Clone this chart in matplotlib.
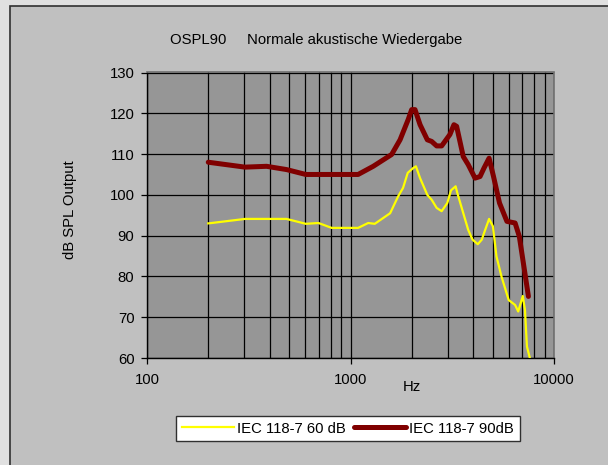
import matplotlib
matplotlib.use("Agg")
import matplotlib.pyplot as plt
from matplotlib.patches import Rectangle
from matplotlib.ticker import FixedLocator, NullFormatter

plt.rcParams['font.family'] = ['Liberation Sans', 'DejaVu Sans']

# ---- data ----
title = "OSPL90     Normale akustische Wiedergabe"
y_label = "dB SPL Output"
x_label = "Hz"
series60_name = "IEC 118-7 60 dB"
series90_name = "IEC 118-7 90dB"

freq60 = [200, 303, 485, 603, 696, 808, 1090, 1222, 1316, 1566, 1713, 1812, 1911,
          2036, 2097, 2197, 2385, 2505, 2651, 2805, 2990, 3118, 3285, 3347, 3789,
          3981, 4222, 4414, 4559, 4798, 5010, 5216, 5518, 5990, 6440, 6670, 7025,
          7199, 7363, 7608]
db60 = [93.0, 94.1, 94.1, 92.9, 93.1, 91.9, 91.9, 93.1, 92.9, 95.5, 99.6, 101.7, 105.4,
        106.6, 107.0, 104.1, 100.0, 98.8, 96.8, 96.0, 98.0, 101.1, 102.1, 100.5, 91.4,
        89.0, 87.9, 89.0, 91.0, 94.1, 92.3, 84.9, 80.0, 74.2, 73.0, 71.4, 75.2,
        71.8, 62.8, 60.0]

freq90 = [200, 303, 387, 485, 603, 886, 1090, 1293, 1593, 1752, 1922, 1998, 2075,
          2197, 2385, 2505, 2651, 2805, 3080, 3223, 3323, 3581, 3789, 4092, 4331,
          4532, 4798, 5044, 5398, 5870, 6440, 6755, 7487]
db90 = [108.0, 106.8, 107.0, 106.2, 105.0, 105.0, 105.0, 107.0, 109.9, 113.5, 118.5, 120.9, 120.9,
        117.2, 113.5, 113.1, 112.0, 112.0, 114.8, 117.2, 116.8, 109.4, 107.4, 104.1, 104.5,
        106.6, 109.0, 104.5, 98.0, 93.5, 93.1, 89.8, 75.1]

x_ticks = [100, 1000, 10000]
x_ticklabels = ["100", "1000", "10000"]
x_minor = [200, 300, 400, 500, 600, 700, 800, 900,
           2000, 3000, 4000, 5000, 6000, 7000, 8000, 9000]
y_ticks = [60, 70, 80, 90, 100, 110, 120, 130]

FS = 10.7
W, H = 608, 465
fig = plt.figure(figsize=(W / 100, H / 100), dpi=100)
fig.patch.set_facecolor('#e0e0e0')
bg = Rectangle((9.5 / W, -0.05), 1.1, 1 - 5.5 / H + 0.05,
               transform=fig.transFigure, facecolor='#c0c0c0',
               edgecolor='#303030', linewidth=1.2, zorder=-10)
fig.patches.append(bg)

ax = fig.add_axes([147 / W, 1 - 358 / H, (554 - 147) / W, (358 - 72.5) / H])
ax.set_zorder(1)
ax.set_facecolor('#969696')
ax.set_xscale('log')
ax.set_xlim(100, 10000)
ax.set_ylim(60, 130)

ax.plot(freq60, db60, color='#ffff00', linewidth=1.6, solid_joinstyle='round', zorder=3)
ax.plot(freq90, db90, color='#800000', linewidth=3.6, solid_joinstyle='round',
        solid_capstyle='round', zorder=4)

ax.xaxis.set_major_locator(FixedLocator(x_ticks))
ax.set_xticklabels(x_ticklabels)
ax.xaxis.set_minor_locator(FixedLocator(x_minor))
ax.xaxis.set_minor_formatter(NullFormatter())
ax.set_yticks(y_ticks)

ax.grid(True, which='major', axis='both', color='black', linewidth=0.9)
ax.grid(True, which='minor', axis='x', color='black', linewidth=0.9)
ax.set_axisbelow(True)

ax.tick_params(axis='both', which='major', length=4, width=0.9, color='black',
               labelsize=FS, labelcolor='black', direction='out')
ax.tick_params(axis='x', which='major', pad=7)
ax.tick_params(axis='y', which='major', pad=5)
ax.tick_params(axis='x', which='minor', length=0)

for s in ['left', 'bottom']:
    ax.spines[s].set_color('black')
    ax.spines[s].set_linewidth(1.0)
for s in ['top', 'right']:
    ax.spines[s].set_color('#707070')
    ax.spines[s].set_linewidth(1.2)

ax.set_ylabel(y_label, fontsize=FS)
ax.yaxis.set_label_coords((77 - 147) / 407, (358 - 210) / 285.5)
ax.text((411.7 - 147) / 407, (358 - 387) / 285.5, x_label, transform=ax.transAxes,
        ha='center', va='center', fontsize=FS)

fig.text(316 / W, 1 - 40 / H, title, ha='center', va='center', fontsize=FS)

h60, = ax.plot([], [], color='#ffff00', linewidth=1.6)
h90, = ax.plot([], [], color='#800000', linewidth=3.6, solid_capstyle='round')
leg = fig.legend([h60, h90], [series60_name, series90_name], loc='center',
                 bbox_to_anchor=(348 / W, 1 - 428.5 / H), ncol=2, frameon=True,
                 fancybox=False, shadow=False, fontsize=FS, handlelength=3.5,
                 handletextpad=0.2, columnspacing=0.6, borderpad=0.4,
                 borderaxespad=0, framealpha=1)
leg.get_frame().set_facecolor('white')
leg.get_frame().set_edgecolor('#303030')
leg.get_frame().set_linewidth(1.0)
leg.set_zorder(5)

fig.savefig('out.png', dpi=100, facecolor=fig.get_facecolor())
